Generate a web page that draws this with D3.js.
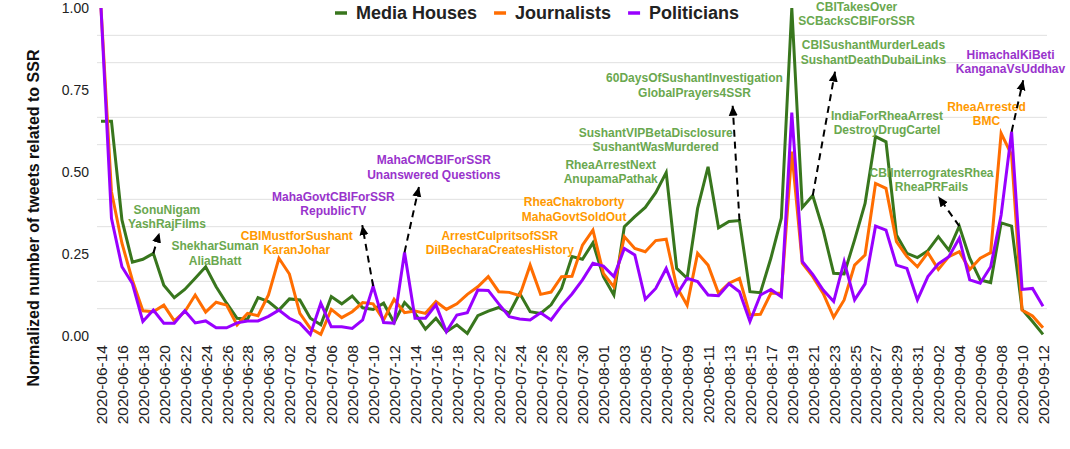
<!DOCTYPE html>
<html>
<head>
<meta charset="utf-8">
<script src="https://cdn.jsdelivr.net/npm/d3@7"></script>
<style>
  body { margin: 0; background: #fff; overflow: hidden; }
  svg { display: block; font-family: Arial, "Liberation Sans", sans-serif; }
</style>
</head>
<body>
<div id="chart"></div>
<script>
// Data (normalized share of SSR tweets, one value per day)
const startDate = "2020-06-14";
const dayCount = 91;

const mediaHouses = [
  0.655, 0.655, 0.354, 0.225, 0.234, 0.252, 0.155, 0.117, 0.142, 0.176,
  0.211, 0.150, 0.100, 0.054, 0.051, 0.117, 0.105, 0.079, 0.113, 0.110,
  0.054, 0.034, 0.120, 0.098, 0.122, 0.086, 0.081, 0.100, 0.041, 0.102,
  0.069, 0.021, 0.054, 0.013, 0.034, 0.008, 0.062, 0.076, 0.087, 0.069,
  0.130, 0.074, 0.069, 0.095, 0.145, 0.242, 0.234, 0.284, 0.181, 0.125,
  0.333, 0.364, 0.392, 0.437, 0.498, 0.206, 0.176, 0.389, 0.516, 0.330,
  0.349, 0.352, 0.135, 0.132, 0.237, 0.359, 1.000, 0.392, 0.428, 0.323,
  0.191, 0.189, 0.293, 0.404, 0.608, 0.592, 0.308, 0.252, 0.239, 0.260,
  0.303, 0.262, 0.335, 0.237, 0.171, 0.163, 0.345, 0.335, 0.081, 0.044,
  0.005
];

const journalists = [
  1.000, 0.440, 0.283, 0.170, 0.077, 0.074, 0.094, 0.046, 0.074, 0.125,
  0.073, 0.103, 0.094, 0.034, 0.069, 0.062, 0.125, 0.237, 0.189, 0.069,
  0.023, 0.005, 0.081, 0.056, 0.074, 0.102, 0.098, 0.049, 0.112, 0.071,
  0.076, 0.069, 0.105, 0.081, 0.098, 0.127, 0.150, 0.181, 0.135, 0.133,
  0.123, 0.216, 0.127, 0.134, 0.181, 0.182, 0.277, 0.323, 0.191, 0.150,
  0.303, 0.267, 0.257, 0.291, 0.295, 0.150, 0.094, 0.252, 0.216, 0.130,
  0.161, 0.176, 0.064, 0.066, 0.130, 0.130, 0.562, 0.222, 0.181, 0.130,
  0.057, 0.110, 0.216, 0.247, 0.465, 0.450, 0.288, 0.242, 0.211, 0.254,
  0.203, 0.242, 0.257, 0.203, 0.237, 0.254, 0.618, 0.552, 0.079, 0.061,
  0.025
];

const politicians = [
  1.000, 0.359, 0.211, 0.160, 0.044, 0.079, 0.039, 0.039, 0.077, 0.040,
  0.046, 0.025, 0.025, 0.040, 0.046, 0.046, 0.060, 0.079, 0.054, 0.039,
  0.005, 0.100, 0.028, 0.028, 0.023, 0.049, 0.152, 0.041, 0.039, 0.255,
  0.054, 0.054, 0.095, 0.013, 0.064, 0.071, 0.140, 0.139, 0.098, 0.059,
  0.052, 0.049, 0.071, 0.049, 0.092, 0.128, 0.171, 0.222, 0.213, 0.181,
  0.267, 0.247, 0.112, 0.145, 0.206, 0.125, 0.176, 0.166, 0.125, 0.123,
  0.159, 0.135, 0.044, 0.125, 0.142, 0.120, 0.681, 0.227, 0.188, 0.140,
  0.105, 0.227, 0.110, 0.159, 0.335, 0.323, 0.216, 0.206, 0.110, 0.181,
  0.220, 0.242, 0.298, 0.171, 0.161, 0.211, 0.369, 0.623, 0.142, 0.145,
  0.091
];

const seriesNames = ["Media Houses", "Journalists", "Politicians"];
const yTicks = [0, 0.25, 0.5, 0.75, 1];

// Hashtag annotations: text placed at (day offset, value); arrows run from a
// point of the series to a tip given in the same data coordinates
const annotations = [
  { series: 0, lines: ["SonuNigam", "YashRajFilms"], day: 6.3, value: 0.373, from: 5, tip: [5.58, 0.315] },
  { series: 0, lines: ["ShekharSuman", "AliaBhatt"], day: 10.9, value: 0.261 },
  { series: 1, lines: ["CBIMustforSushant", "KaranJohar"], day: 18.7, value: 0.294 },
  { series: 2, lines: ["MahaGovtCBIForSSR", "RepublicTV"], day: 22.2, value: 0.412, from: 26, tip: [24.96, 0.338] },
  { series: 2, lines: ["MahaCMCBIForSSR", "Unanswered Questions"], day: 31.8, value: 0.523, from: 29, tip: [30.38, 0.455] },
  { series: 1, lines: ["ArrestCulpritsofSSR", "DilBecharaCreatesHistory"], day: 38.1, value: 0.294 },
  { series: 1, lines: ["RheaChakroborty", "MahaGovtSoldOut"], day: 45.2, value: 0.396 },
  { series: 0, lines: ["RheaArrestNext", "AnupamaPathak"], day: 48.7, value: 0.510 },
  { series: 0, lines: ["SushantVIPBetaDisclosure", "SushantWasMurdered"], day: 53.0, value: 0.607 },
  { series: 0, lines: ["60DaysOfSushantInvestigation", "GlobalPrayers4SSR"], day: 56.7, value: 0.774, from: 61, tip: [60.35, 0.702] },
  { series: 0, lines: ["CBITakesOver", "SCBacksCBIForSSR"], day: 72.2, value: 0.991 },
  { series: 0, lines: ["CBISushantMurderLeads", "SushantDeathDubaiLinks"], day: 73.8, value: 0.874, from: 68, tip: [70.13, 0.806] },
  { series: 0, lines: ["IndiaForRheaArrest", "DestroyDrugCartel"], day: 75.1, value: 0.660 },
  { series: 0, lines: ["CBIInterrogratesRhea", "RheaPRFails"], day: 79.35, value: 0.485, from: 82, tip: [80.0, 0.425] },
  { series: 1, lines: ["RheaArrested", "BMC"], day: 84.6, value: 0.686 },
  { series: 2, lines: ["HimachalKiBeti", "KanganaVsUddhav"], day: 86.9, value: 0.845, from: 87, tip: [88.11, 0.780] }
];

const lineColors = ["#38761d", "#ff6d01", "#9900ff"];
const textColors = ["#6aa84f", "#ff9900", "#9933cc"];
const fontFamily = 'Arial, "Liberation Sans", sans-serif';

const width = 1070;
const height = 449;
const margin = { top: 8, right: 27, bottom: 113, left: 101 };
const innerWidth = width - margin.left - margin.right;
const innerHeight = height - margin.top - margin.bottom;

const start = d3.utcParse("%Y-%m-%d")(startDate);
const dates = d3.utcDay.range(start, d3.utcDay.offset(start, dayCount));
const dayToDate = (day) => new Date(+start + day * 864e5);

const series = [mediaHouses, journalists, politicians];

const xScale = d3.scaleUtc()
  .domain([dates[0], dates[dates.length - 1]])
  .range([0, innerWidth]);

const yScale = d3.scaleLinear()
  .domain([0, 1])
  .range([innerHeight, 0]);

const svg = d3.select('#chart')
  .append('svg')
    .attr('width', width)
    .attr('height', height)
    .attr('viewBox', `0 0 ${width} ${height}`)
    .attr('font-family', fontFamily);

const inner = svg
  .append('g')
    .attr('transform', `translate(${margin.left}, ${margin.top})`);

// Light grid: every twelfth, skipping the labelled values
const gridValues = d3.range(1, 12).filter(k => k % 3 !== 0).map(k => k / 12);
inner.append('g')
  .selectAll('line')
  .data(gridValues)
  .join('line')
    .attr('x1', -4)
    .attr('x2', innerWidth + 4)
    .attr('y1', d => yScale(d))
    .attr('y2', d => yScale(d))
    .attr('stroke', '#e0e0e0')
    .attr('stroke-width', 1);

// Y axis
const yAxis = inner.append('g')
  .call(d3.axisLeft(yScale)
    .tickValues(yTicks)
    .tickFormat(d3.format('.2f'))
    .tickSize(0)
    .tickPadding(12))
  .attr('font-family', fontFamily)
  .attr('font-size', 14);
yAxis.select('.domain').remove();
yAxis.selectAll('text')
  .attr('fill', '#222');

// X axis, one label every other day
const xAxis = inner.append('g')
  .attr('transform', `translate(0, ${innerHeight})`)
  .call(d3.axisBottom(xScale)
    .tickValues(dates.filter((d, i) => i % 2 === 0))
    .tickFormat(d3.utcFormat('%Y-%m-%d'))
    .tickSize(0))
  .attr('font-family', fontFamily)
  .attr('font-size', 15.5);
xAxis.select('.domain').remove();
xAxis.selectAll('text')
  .attr('transform', 'rotate(-90)')
  .attr('x', -9)
  .attr('y', 0)
  .attr('dy', '0.35em')
  .attr('text-anchor', 'end')
  .attr('fill', '#222');

// Y axis title
svg.append('text')
  .text('Normalized number of tweets related to SSR')
  .attr('transform', 'translate(39, 218) rotate(-90)')
  .attr('text-anchor', 'middle')
  .style('font-size', '16px')
  .style('font-weight', 700)
  .attr('fill', '#111');

// Lines
const lineGenerator = d3.line()
  .x((d, i) => xScale(dates[i]))
  .y(d => yScale(d));

inner.append('g')
  .selectAll('path')
  .data(series)
  .join('path')
    .attr('d', lineGenerator)
    .attr('fill', 'none')
    .attr('stroke', (d, i) => lineColors[i])
    .attr('stroke-width', 3);

// Annotations
svg.append('defs')
  .append('marker')
    .attr('id', 'arrow')
    .attr('viewBox', '0 -5 10 10')
    .attr('refX', 10)
    .attr('refY', 0)
    .attr('markerUnits', 'userSpaceOnUse')
    .attr('markerWidth', 10)
    .attr('markerHeight', 10)
    .attr('orient', 'auto')
  .append('path')
    .attr('d', 'M0,-4.5L10,0L0,4.5Z')
    .attr('fill', '#000');

const labels = inner.append('g')
  .selectAll('text')
  .data(annotations)
  .join('text')
    .attr('x', d => xScale(dayToDate(d.day)))
    .attr('y', d => yScale(d.value))
    .attr('text-anchor', 'middle')
    .attr('fill', d => textColors[d.series])
    .style('font-size', '12px')
    .style('font-weight', 700);

labels.selectAll('tspan')
  .data(d => d.lines.map((line, k) => ({ line, k, x: xScale(dayToDate(d.day)) })))
  .join('tspan')
    .attr('x', t => t.x)
    .attr('dy', t => t.k === 0 ? 0 : 14.5)
    .text(t => t.line);

inner.append('g')
  .selectAll('line')
  .data(annotations.filter(d => d.tip))
  .join('line')
    .attr('x1', d => xScale(dates[d.from]))
    .attr('y1', d => yScale(series[d.series][d.from]))
    .attr('x2', d => xScale(dayToDate(d.tip[0])))
    .attr('y2', d => yScale(d.tip[1]))
    .attr('stroke', '#000')
    .attr('stroke-width', 2)
    .attr('stroke-dasharray', '7,5')
    .attr('marker-end', 'url(#arrow)');

// Legend
const legend = svg.append('g')
  .attr('transform', 'translate(335, 0)');
let offset = 0;
seriesNames.forEach((name, i) => {
  const item = legend.append('g')
    .attr('transform', `translate(${offset}, 0)`);
  item.append('line')
    .attr('x1', 0)
    .attr('x2', 12)
    .attr('y1', 13)
    .attr('y2', 13)
    .attr('stroke', lineColors[i])
    .attr('stroke-width', 3.5);
  const label = item.append('text')
    .text(name)
    .attr('x', 21)
    .attr('y', 19)
    .attr('fill', '#222')
    .style('font-size', '18px')
    .style('font-weight', 700);
  offset += 21 + label.node().getComputedTextLength() + 17;
});
</script>
</body>
</html>
